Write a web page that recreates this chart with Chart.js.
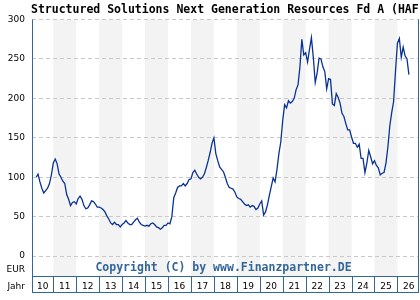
<!DOCTYPE html>
<html>
<head>
<meta charset="utf-8">
<script src="https://cdn.jsdelivr.net/npm/chart.js@4/dist/chart.umd.min.js"></script>
<style>
html,body{margin:0;padding:0;background:#fff}
canvas{display:block}
</style>
</head>
<body>
<canvas id="c" width="420" height="300"></canvas>
<script>
// Fund price (EUR), monthly, first value = April 2010
const START_YEAR=2010, START_MONTH=3;
const prices=[
  100,104,94,86,80,83,86,92,103,
  118,123,117,104,100,95,92,78,72,64,68,69,
  66,73,76,72,64,60,61,65,70,69,66,62,
  62,61,59,56,51,47,42,40,43,40,40,37,
  40,42,45,42,40,40,43,46,48,43,40,39,
  38,39,38,41,42,40,37,36,34,36,39,39,
  42,41,50,74,80,87,89,89,92,89,92,97,
  98,106,109,104,100,98,100,104,112,121,131,143,
  150,130,121,113,110,107,100,92,87,86,85,81,
  75,73,72,69,66,64,65,62,64,63,59,61,
  66,70,52,56,65,77,88,99,94,110,130,145,
  172,192,188,197,194,196,200,211,217,240,275,255,
  258,246,262,277,252,220,232,251,250,240,234,212,
  225,224,193,191,206,201,194,181,177,168,160,160,
  151,143,143,138,142,124,124,106,118,134,126,117,
  121,115,112,103,105,106,118,138,165,182,196,235,
  270,276,252,265,254,250,230
];
const yearLabels=["10","11","12","13","14","15","16","17","18","19","20","21","22","23","24","25","26"];
const firstYear=2010;
const yTicks=[0,50,100,150,200,250,300];
const TITLE="Structured Solutions Next Generation Resources Fd A (HAF";
const COPY="Copyright (C) by www.Finanzpartner.DE";

const BLUE="#336699", LINE="#0a3296";
const pts=prices.map((v,i)=>({x:START_YEAR+(START_MONTH+i)/12,y:v}));

const deco={
  id:"deco",
  beforeDraw(ch){
    const c=ch.ctx,a=ch.chartArea,xs=ch.scales.x;
    c.save();
    c.fillStyle="#fff";c.fillRect(0,0,ch.width,ch.height);
    // shaded odd years
    c.fillStyle="#f3f3f3";
    yearLabels.forEach((l,i)=>{
      if(i%2===0)return;
      const x1=xs.getPixelForValue(firstYear+i),x2=xs.getPixelForValue(firstYear+i+1);
      c.fillRect(x1,a.top,x2-x1,276-a.top);
    });
    c.restore();
  },
  afterDraw(ch){
    const c=ch.ctx,a=ch.chartArea,xs=ch.scales.x;
    c.save();
    // title
    c.fillStyle="#000";c.font="bold 11.5px 'DejaVu Sans Mono'";c.textBaseline="alphabetic";c.textAlign="left";
    c.fillText(TITLE,31,13);
    // copyright
    c.fillStyle=BLUE;c.textAlign="center";
    c.fillText(COPY,223.5,271);
    // EUR / Jahr
    c.fillStyle="#000";c.font="9px 'DejaVu Sans'";c.textAlign="right";
    c.fillText("EUR",25,271.5);
    c.fillText("Jahr",25,288.5);
    // year row
    c.strokeStyle=BLUE;c.lineWidth=1;
    c.beginPath();
    c.moveTo(a.left,276.5);c.lineTo(a.right,276.5);
    c.moveTo(a.left,292.5);c.lineTo(a.right,292.5);
    c.moveTo(a.left+0.5,a.top);c.lineTo(a.left+0.5,293);
    c.moveTo(a.right-0.5,a.top);c.lineTo(a.right-0.5,293);
    yearLabels.forEach((l,i)=>{
      if(i===0)return;
      const x=Math.round(xs.getPixelForValue(firstYear+i))+0.5;
      c.moveTo(x,276.5);c.lineTo(x,292.5);
    });
    c.stroke();
    c.fillStyle="#000";c.textAlign="center";
    yearLabels.forEach((l,i)=>{
      const x1=Math.max(a.left,xs.getPixelForValue(firstYear+i));
      const x2=Math.min(420,xs.getPixelForValue(firstYear+i+1));
      c.fillText(l,(x1+x2)/2,288.5);
    });
    c.restore();
  }
};

new Chart(document.getElementById("c"),{
  type:"line",
  data:{datasets:[{data:pts,borderColor:LINE,borderWidth:1.3,pointRadius:0,tension:0,fill:false}]},
  options:{
    responsive:false,animation:false,devicePixelRatio:1,
    layout:{padding:{left:0,top:19.5,right:1,bottom:25}},
    plugins:{legend:{display:false},tooltip:{enabled:false}},
    scales:{
      x:{type:"linear",min:2010.071,max:2026.94,display:false},
      y:{type:"linear",min:-24,max:300,
        afterBuildTicks:s=>{s.ticks=yTicks.map(v=>({value:v}))},
        afterFit:s=>{s.width=32},
        grid:{color:"#c8c8c8",drawTicks:false,lineWidth:1},
        border:{display:false,dash:[4,3]},
        ticks:{padding:7,color:"#000",font:{family:"DejaVu Sans",size:9}}
      }
    }
  },
  plugins:[deco]
});
</script>
</body>
</html>
